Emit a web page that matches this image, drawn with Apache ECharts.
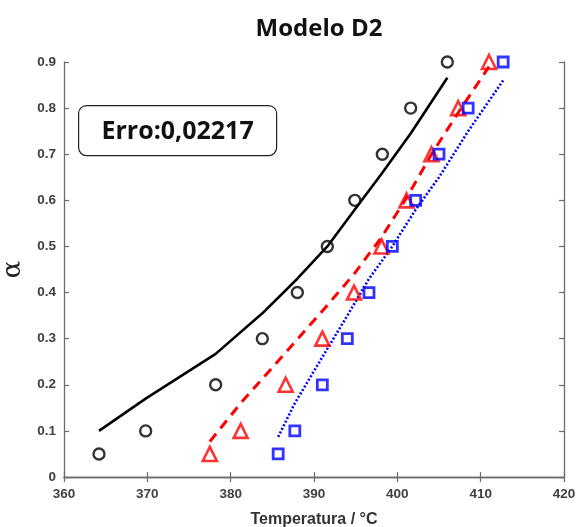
<!DOCTYPE html>
<html>
<head>
<meta charset="utf-8">
<script src="https://cdn.jsdelivr.net/npm/echarts@6/dist/echarts.min.js"></script>
<style>
  html, body { margin: 0; padding: 0; background: #fff; }
  #chart { width: 577px; height: 527px; }
</style>
</head>
<body>
<div id="chart"></div>
<script>
// Conversion levels (alpha) shared by all experimental sets
const alphaLevels = [0.05, 0.1, 0.2, 0.3, 0.4, 0.5, 0.6, 0.7, 0.8, 0.9];

// Experimental temperatures (°C) for each heating rate
const tempBlack = [364.2, 369.8, 378.2, 383.8, 388.0, 391.6, 394.9, 398.2, 401.6, 406.0];
const tempRed   = [377.5, 381.2, 386.6, 391.0, 394.8, 398.1, 401.1, 404.1, 407.3, 411.0];
const tempBlue  = [385.7, 387.7, 391.0, 394.0, 396.6, 399.4, 402.2, 405.0, 408.5, 412.7];

// D2 model predictions evaluated at the experimental temperatures
const modelBlack = [0.100, 0.170, 0.267, 0.355, 0.430, 0.500, 0.580, 0.660, 0.745, 0.866];
const modelRed   = [0.077, 0.160, 0.270, 0.360, 0.440, 0.520, 0.605, 0.700, 0.790, 0.890];
const modelBlue  = [0.087, 0.160, 0.260, 0.350, 0.430, 0.500, 0.580, 0.650, 0.750, 0.860];

const xTicks = { min: 360, max: 420, interval: 10 };
const yTicks = { min: 0, max: 0.9, interval: 0.1 };
const errorText = 'Erro:0,02217';

const pairs = (xs, ys) => xs.map((x, i) => [x, ys[i]]);

const chart = echarts.init(document.getElementById('chart'), null, { renderer: 'canvas' });

const axisLine = { show: true, lineStyle: { color: '#6b6b6b', width: 1.3 } };
const tickIn = { show: true, inside: true, length: 5, lineStyle: { color: '#6b6b6b', width: 1.2 } };
const tickFont = { color: '#404040', fontWeight: 'bold', fontSize: 13.5, fontFamily: 'Liberation Sans, Arial, sans-serif' };
const hollow = 'rgba(0,0,0,0)';

chart.setOption({
  animation: false,
  backgroundColor: '#ffffff',
  title: {
    text: 'Modelo D2',
    left: 314, top: 12, textAlign: 'center',
    textStyle: { fontSize: 24, fontWeight: 'bold', color: '#111', fontFamily: 'Open Sans, sans-serif' }
  },
  grid: { left: 64, right: 13, top: 62, bottom: 50, containLabel: false, outerBoundsMode: 'none' },
  xAxis: [
    {
      type: 'value', position: 'bottom',
      min: xTicks.min, max: xTicks.max, interval: xTicks.interval,
      axisLine, axisTick: tickIn, splitLine: { show: false },
      axisLabel: Object.assign({ margin: 10 }, tickFont),
      name: 'Temperatura / °C', nameLocation: 'middle', nameGap: 35,
      nameTextStyle: { fontSize: 16, fontWeight: 'bold', color: '#333', fontFamily: 'Liberation Sans, Arial, sans-serif' }
    },
    {
      type: 'value', position: 'top',
      min: xTicks.min, max: xTicks.max, interval: xTicks.interval,
      axisLine, axisTick: tickIn, axisLabel: { show: false }, splitLine: { show: false }
    }
  ],
  yAxis: [
    {
      type: 'value', position: 'left',
      min: yTicks.min, max: yTicks.max, interval: yTicks.interval,
      axisLine, axisTick: tickIn, splitLine: { show: false },
      axisLabel: Object.assign({ margin: 8, formatter: v => (v === 0 ? '0' : v.toFixed(1)) }, tickFont),
      name: 'α', nameLocation: 'middle', nameGap: 34, nameRotate: 90,
      nameTextStyle: { fontSize: 26, color: '#222', fontFamily: 'DejaVu Serif, serif' }
    },
    {
      type: 'value', position: 'right',
      min: yTicks.min, max: yTicks.max, interval: yTicks.interval,
      axisLine, axisTick: tickIn, axisLabel: { show: false }, splitLine: { show: false }
    }
  ],
  graphic: [
    {
      type: 'group', left: 78, top: 105,
      children: [
        { type: 'rect', shape: { x: 0, y: 0, width: 198, height: 50, r: 8 },
          style: { fill: '#fff', stroke: '#222', lineWidth: 1.2 } },
        { type: 'text', x: 99, y: 26,
          style: { text: errorText, fill: '#111', font: 'bold 25px "Open Sans", sans-serif',
                   align: 'center', verticalAlign: 'middle' } }
      ]
    }
  ],
  series: [
    { type: 'line', data: pairs(tempBlack, modelBlack), symbol: 'none', z: 2,
      lineStyle: { color: '#000', width: 2.6, type: 'solid' } },
    { type: 'line', data: pairs(tempRed, modelRed), symbol: 'none', z: 2,
      lineStyle: { color: '#ff0000', width: 3, type: [10, 7] } },
    { type: 'line', data: pairs(tempBlue, modelBlue), symbol: 'none', z: 2,
      lineStyle: { color: '#0000ff', width: 2.6, type: [2, 2] } },
    { type: 'scatter', data: pairs(tempBlack, alphaLevels), symbol: 'circle', symbolSize: 11, z: 3,
      itemStyle: { color: hollow, borderColor: '#000', borderWidth: 2.4 } },
    { type: 'scatter', data: pairs(tempRed, alphaLevels), symbol: 'triangle', symbolSize: 14, z: 3,
      itemStyle: { color: hollow, borderColor: '#ff0000', borderWidth: 2.6 } },
    { type: 'scatter', data: pairs(tempBlue, alphaLevels), symbol: 'rect', symbolSize: 10, z: 3,
      itemStyle: { color: hollow, borderColor: '#0000ff', borderWidth: 2.8 } }
  ]
});
</script>
</body>
</html>
